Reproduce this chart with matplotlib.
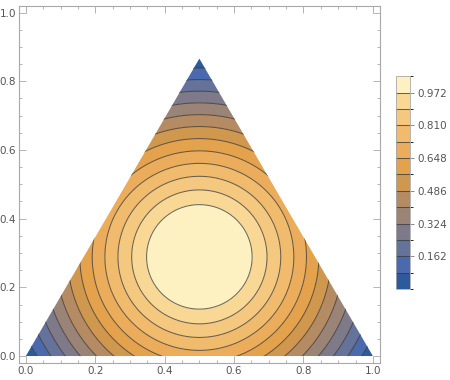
import numpy as np
import matplotlib
matplotlib.use('Agg')
import matplotlib.pyplot as plt
from matplotlib.patches import Polygon
from matplotlib.colors import ListedColormap, BoundaryNorm
from matplotlib.cm import ScalarMappable
import matplotlib.ticker as mticker

# contour values (0.081 steps) and the band colours between them
levels = [0.081, 0.162, 0.243, 0.324, 0.405, 0.486, 0.567,
          0.648, 0.729, 0.810, 0.891, 0.972]
bounds = [0.0] + levels + [1.053]
band_colors = ['#2d5a9a', '#4a6aad', '#657299', '#7e7a8a', '#9a8477',
               '#b58b64', '#d0984f', '#e3a24b', '#ebad5c', '#f0bb6d',
               '#f5c880', '#f9d795', '#fdf1c1']
cbar_ticks = [0.162, 0.324, 0.486, 0.648, 0.810, 0.972]
xticks = [0.0, 0.2, 0.4, 0.6, 0.8, 1.0]
yticks = [0.0, 0.2, 0.4, 0.6, 0.8, 1.0]

# triangle and the radial field peaking at its centroid
vertices = [(0.0, 0.0), (1.0, 0.0), (0.5, 0.866)]
centre = (0.5, 0.2887)
peak, slope, soft = 1.506, 2.5, 0.15

grey = '#555555'
frame = '#a8a8a8'

x = np.linspace(-0.02, 1.02, 700)
y = np.linspace(-0.02, 1.02, 700)
X, Y = np.meshgrid(x, y)
R2 = (X - centre[0]) ** 2 + (Y - centre[1]) ** 2
Z = peak - slope * np.sqrt(R2 + soft ** 2)
Z = np.clip(Z, 0.001, 1.05)

cmap = ListedColormap(band_colors)
norm = BoundaryNorm(bounds, cmap.N)

fig = plt.figure(figsize=(4.5, 3.8), dpi=100)
ax = fig.add_axes([0.042, 0.045, 0.802, 0.94])

tri = Polygon(vertices, closed=True, facecolor='none', edgecolor='none')
ax.add_patch(tri)

cf = ax.contourf(X, Y, Z, levels=bounds, cmap=cmap, norm=norm)
cf.set_clip_path(tri)
cl = ax.contour(X, Y, Z, levels=levels, colors='#3a3a3a',
                linewidths=0.75, alpha=0.75)
cl.set_clip_path(tri)

ax.set_xlim(-0.02, 1.02)
ax.set_ylim(-0.02, 1.02)
ax.set_xticks(xticks)
ax.set_yticks(yticks)
ax.xaxis.set_major_formatter(mticker.FormatStrFormatter('%.1f'))
ax.yaxis.set_major_formatter(mticker.FormatStrFormatter('%.1f'))
ax.xaxis.set_minor_locator(mticker.MultipleLocator(0.05))
ax.yaxis.set_minor_locator(mticker.MultipleLocator(0.05))
ax.tick_params(which='both', direction='in', top=True, right=True,
               color=frame, labelcolor=grey, labelsize=7.5, width=0.6)
ax.tick_params(which='major', length=5, pad=2)
ax.tick_params(which='minor', length=2.5)
for s in ax.spines.values():
    s.set_color(frame)
    s.set_linewidth(0.8)

# legend bar
cax = fig.add_axes([0.88, 0.2395, 0.031, 0.56])
cb = fig.colorbar(ScalarMappable(norm=norm, cmap=cmap), cax=cax,
                  boundaries=bounds, ticks=cbar_ticks, spacing='uniform')
cb.ax.yaxis.set_major_formatter(mticker.FormatStrFormatter('%.3f'))
for lv in levels:
    cax.axhline(lv, color='#3a3a3a', lw=0.75, alpha=0.75)
cb.outline.set_edgecolor(frame)
cb.outline.set_linewidth(0.6)
cax.tick_params(direction='out', length=3, width=0.6, color='#777777',
                labelcolor=grey, labelsize=7.5, pad=2)

fig.savefig('out.png', dpi=100)
